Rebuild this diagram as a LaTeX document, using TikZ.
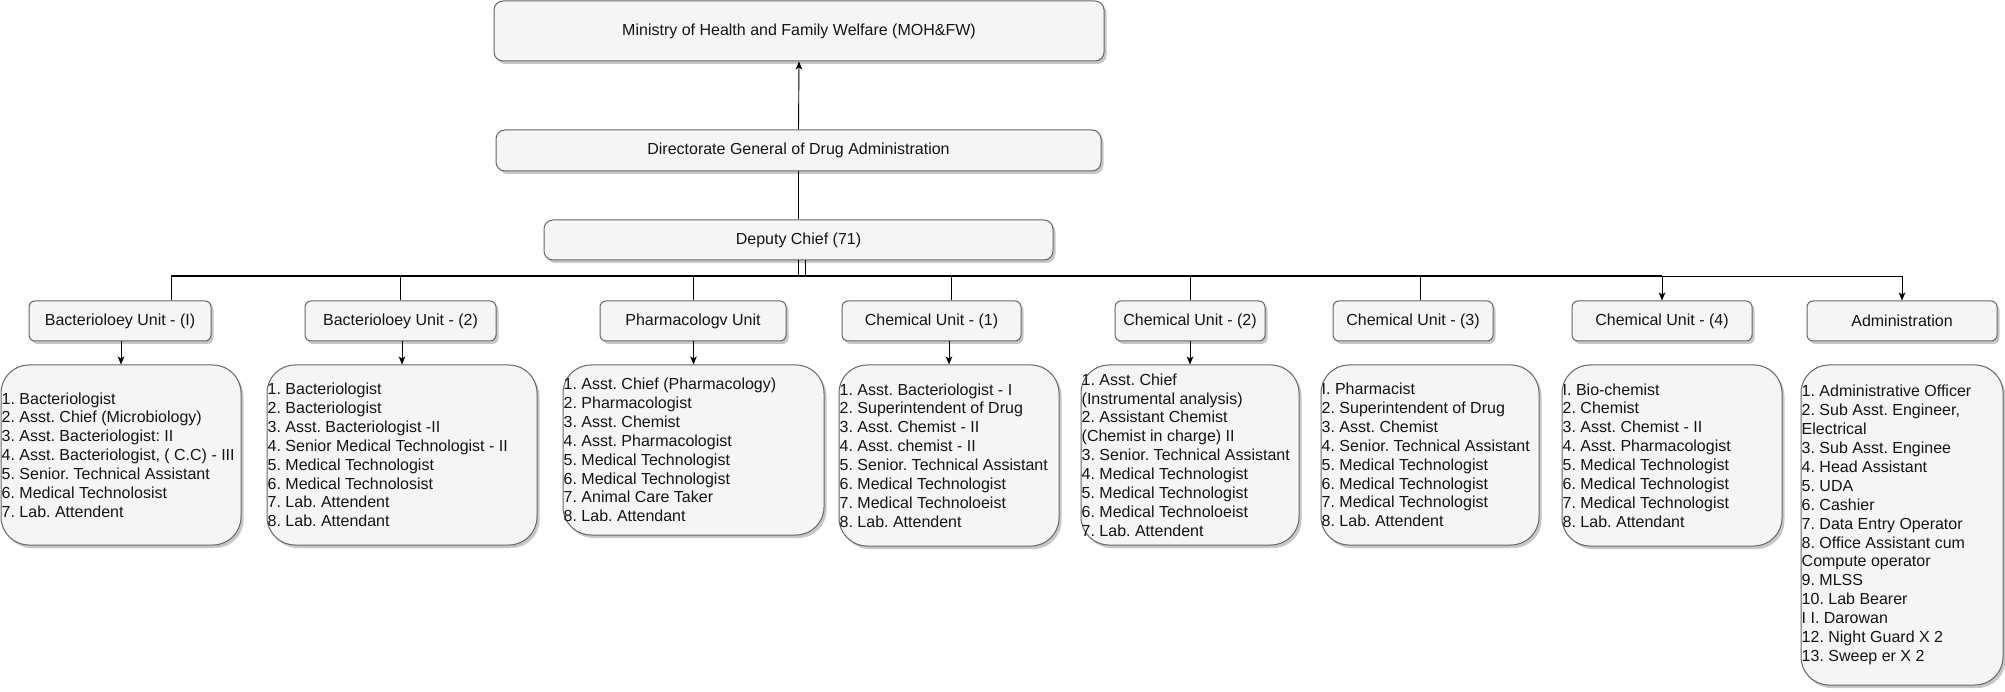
\documentclass[tikz,border=0pt]{standalone}
\usepackage{fontspec}
\setmainfont{Liberation Sans}
\frenchspacing
\usetikzlibrary{arrows.meta,shadows}
\definecolor{boxfill}{HTML}{F5F5F5}
\definecolor{boxline}{HTML}{666666}
\definecolor{txt}{HTML}{141414}
\begin{document}
\begin{tikzpicture}[x=1pt,y=-1pt,
  every node/.style={font=\fontsize{16pt}{18.9pt}\selectfont\frenchspacing, text=txt},
  gbox/.style={draw=boxline, fill=boxfill, line width=1pt, inner sep=0pt,
    drop shadow={shadow xshift=2.5pt, shadow yshift=-3pt, fill=black, opacity=0.22}},
  topbox/.style={gbox, rounded corners=9pt},
  unitbox/.style={gbox, rounded corners=6pt, minimum height=40pt},
  listbox/.style={gbox, rounded corners=28pt},
  listtext/.style={anchor=west, align=left, inner xsep=1pt, inner ysep=0pt},
  conn/.style={draw=black, line width=0.9pt},
  arr/.style={conn, -{Stealth[length=8pt,width=6.5pt,inset=2pt]}}
]
\useasboundingbox (0,0) rectangle (2005,692);

% top hierarchy
\node[topbox, minimum width=610pt, minimum height=60pt] (moh) at (799,31) {Ministry of Health and Family Welfare (MOH\&FW)};
\node[topbox, minimum width=605pt, minimum height=41pt] (dg) at (798.5,150.5) {Directorate General of Drug Administration};
\node[topbox, minimum width=509pt, minimum height=40pt] (dep) at (798.5,240) {Deputy Chief (71)};

% unit boxes
\node[unitbox, minimum width=182pt] (b1) at (120,321) {Bacterioloey Unit - (I)};
\node[unitbox, minimum width=191pt] (b2) at (400.5,321) {Bacterioloey Unit - (2)};
\node[unitbox, minimum width=186pt] (ph) at (693,321) {Pharmacologv Unit};
\node[unitbox, minimum width=179pt] (c1) at (931.5,321) {Chemical Unit - (1)};
\node[unitbox, minimum width=150pt] (c2) at (1190,321) {Chemical Unit - (2)};
\node[unitbox, minimum width=160pt] (c3) at (1413,321) {Chemical Unit - (3)};
\node[unitbox, minimum width=180pt] (c4) at (1662,321) {Chemical Unit - (4)};
\node[unitbox, minimum width=190pt] (ad) at (1902,321) {Administration};

% list boxes
\node[listbox, minimum width=240pt, minimum height=180pt] (l1) at (121,455) {};
\node[listbox, minimum width=270pt, minimum height=180pt] (l2) at (402,455) {};
\node[listbox, minimum width=261pt, minimum height=170pt] (l3) at (693.5,450) {};
\node[listbox, minimum width=220pt, minimum height=181pt] (l4) at (949,455.5) {};
\node[listbox, minimum width=218pt, minimum height=180pt] (l5) at (1190,455) {};
\node[listbox, minimum width=218pt, minimum height=180pt] (l6) at (1430,455) {};
\node[listbox, minimum width=220pt, minimum height=181pt] (l7) at (1672,455.5) {};
\node[listbox, minimum width=202pt, minimum height=320pt] (l8) at (1902,525) {};

\node[listtext] (t1) at (l1.west) {1. Bacteriologist\\2. Asst. Chief (Microbiology)\\3. Asst. Bacteriologist: II\\4. Asst. Bacteriologist, ( C.C) - III\\5. Senior. Technical Assistant\\6. Medical Technolosist\\7. Lab. Attendent};
\node[listtext] (t2) at (l2.west) {1. Bacteriologist\\2. Bacteriologist\\3. Asst. Bacteriologist -II\\4. Senior Medical Technologist - II\\5. Medical Technologist\\6. Medical Technolosist\\7. Lab. Attendent\\8. Lab. Attendant};
\node[listtext] (t3) at (l3.west) {1. Asst. Chief (Pharmacology)\\2. Pharmacologist\\3. Asst. Chemist\\4. Asst. Pharmacologist\\5. Medical Technologist\\6. Medical Technologist\\7. Animal Care Taker\\8. Lab. Attendant};
\node[listtext] (t4) at (l4.west) {1. Asst. Bacteriologist - I\\2. Superintendent of Drug\\3. Asst. Chemist - II\\4. Asst. chemist - II\\5. Senior. Technical Assistant\\6. Medical Technologist\\7. Medical Technoloeist\\8. Lab. Attendent};
\node[listtext] (t5) at (l5.west) {1. Asst. Chief\\(Instrumental analysis)\\2. Assistant Chemist\\(Chemist in charge) II\\3. Senior. Technical Assistant\\4. Medical Technologist\\5. Medical Technologist\\6. Medical Technoloeist\\7. Lab. Attendent};
\node[listtext] (t6) at (l6.west) {I. Pharmacist\\2. Superintendent of Drug\\3. Asst. Chemist\\4. Senior. Technical Assistant\\5. Medical Technologist\\6. Medical Technologist\\7. Medical Technologist\\8. Lab. Attendent};
\node[listtext] (t7) at (l7.west) {I. Bio-chemist\\2. Chemist\\3. Asst. Chemist - II\\4. Asst. Pharmacologist\\5. Medical Technologist\\6. Medical Technologist\\7. Medical Technologist\\8. Lab. Attendant};
\node[listtext] (t8) at (l8.west) {1. Administrative Officer\\2. Sub Asst. Engineer,\\Electrical\\3. Sub Asst. Enginee\\4. Head Assistant\\5. UDA\\6. Cashier\\7. Data Entry Operator\\8. Office Assistant cum\\Compute operator\\9. MLSS\\10. Lab Bearer\\I I. Darowan\\12. Night Guard X 2\\13. Sweep er X 2};

% upward chain
\draw[arr] (dg.north) -- (moh.south);
\draw[conn] (dep.north) -- (dg.south);

% bus from Deputy Chief to the units
\coordinate (d1) at (171,276);
\coordinate (d2) at (400.5,276);
\coordinate (d3) at (693,276);
\coordinate (d4) at (951,276);
\coordinate (d5) at (1190,276);
\coordinate (d6) at (1420,276);
\coordinate (d7) at (1662,276);
\coordinate (d8) at (1902,276);
\coordinate (dx) at (805.5,260);
\coordinate (dk) at (991,276);
\draw[conn] (dep.south) -- (dep.south |- d1) -- (d1) -- (d1 |- b1.north);
\draw[conn] (dep.south) -- (dep.south |- d2) -- (d2) -- (d2 |- b2.north);
\draw[conn] (dep.south) -- (dep.south |- d3) -- (d3) -- (d3 |- ph.north);
\draw[conn] (dep.south) -- (dep.south |- d4) -- (d4) -- (d4 |- c1.north);
\draw[conn] (dx) -- (dx |- d5) -- (d5) -- (d5 |- c2.north);
\draw[conn] (dx) -- (dx |- d6) -- (d6) -- (d6 |- c3.north);
\draw[arr] (dep.south) -- (dep.south |- d7) -- (d7) -- (d7 |- c4.north);
\draw[arr] (dep.south) -- (dep.south |- d8) -- (d8) -- (d8 |- ad.north);
\draw[line width=1.2pt] (d1) -- (d7);
\draw[line width=1.9pt] (dk) -- (d7);

% units to their lists
\draw[arr] (b1.south -| l1.north) -- (l1.north);
\draw[arr] (b2.south -| l2.north) -- (l2.north);
\draw[arr] (ph.south -| l3.north) -- (l3.north);
\draw[arr] (c1.south -| l4.north) -- (l4.north);
\draw[arr] (c2.south -| l5.north) -- (l5.north);
\end{tikzpicture}
\end{document}
